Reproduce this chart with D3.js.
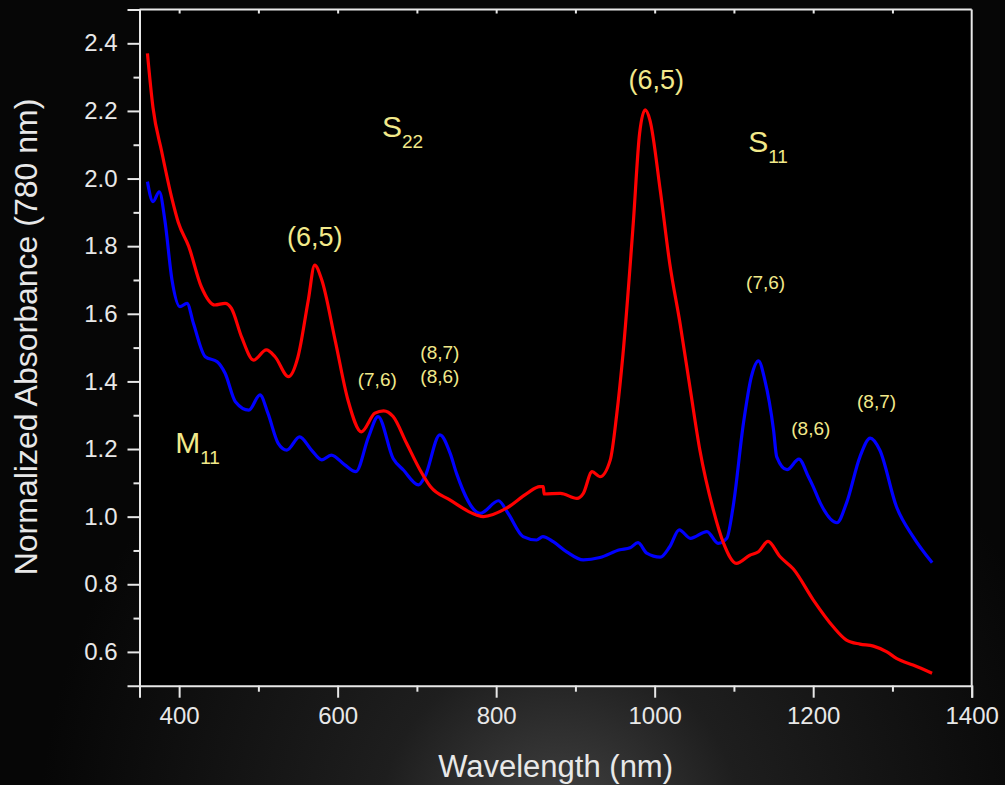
<!DOCTYPE html>
<html>
<head>
<meta charset="utf-8">
<script src="https://cdn.jsdelivr.net/npm/d3@7"></script>
<style>
  body { margin: 0; background: #000; }
  svg { display: block; }
</style>
</head>
<body>
<div id="chart"></div>
<script>
// wavelength (nm) and normalized absorbance for the two samples
var redWl = [360, 367, 378, 391, 399, 412, 428, 445, 458, 466, 479, 494, 510, 521, 538, 550, 563, 571, 580, 597, 613, 630, 647, 658, 670, 687, 704, 717, 742, 775, 784, 813, 839, 855, 859.5, 860.5, 881, 902, 910, 921, 931, 944, 952, 960, 973, 981, 988, 994, 1007, 1019, 1032, 1045, 1057, 1074, 1087, 1103, 1120, 1131, 1143, 1158, 1175, 1200, 1225, 1242, 1259, 1276, 1293, 1305, 1326, 1350];
var redAbs = [2.37, 2.21, 2.08, 1.94, 1.87, 1.80, 1.68, 1.626, 1.631, 1.616, 1.53, 1.463, 1.493, 1.473, 1.414, 1.473, 1.641, 1.744, 1.70, 1.52, 1.345, 1.251, 1.306, 1.313, 1.296, 1.217, 1.138, 1.089, 1.049, 1.005, 1.0, 1.025, 1.069, 1.089, 1.089, 1.067, 1.069, 1.054, 1.069, 1.133, 1.118, 1.168, 1.30, 1.48, 1.868, 2.134, 2.203, 2.173, 1.966, 1.749, 1.572, 1.375, 1.197, 1.02, 0.921, 0.862, 0.886, 0.896, 0.927, 0.882, 0.845, 0.754, 0.675, 0.635, 0.623, 0.617, 0.600, 0.581, 0.561, 0.537];

var blueWl = [360, 367, 375, 382, 391, 401, 410, 418, 433, 448, 458, 471, 488, 502, 512, 525, 536, 552, 567, 580, 592, 609, 623, 639, 651, 670, 683, 702, 710, 729, 742, 750, 780, 803, 815, 834, 851, 859, 872, 889, 910, 931, 956, 969, 979, 990, 1007, 1019, 1031, 1045, 1066, 1080, 1091, 1099, 1112, 1122, 1131, 1139, 1150, 1154, 1167, 1182, 1194, 1200, 1209, 1230, 1242, 1259, 1272, 1284, 1305, 1326, 1350];
var blueAbs = [1.991, 1.932, 1.961, 1.877, 1.70, 1.621, 1.631, 1.572, 1.473, 1.458, 1.424, 1.34, 1.315, 1.36, 1.306, 1.217, 1.197, 1.236, 1.197, 1.168, 1.182, 1.153, 1.133, 1.236, 1.296, 1.172, 1.138, 1.094, 1.118, 1.242, 1.187, 1.128, 1.01, 1.047, 1.01, 0.941, 0.931, 0.941, 0.926, 0.896, 0.872, 0.879, 0.902, 0.908, 0.923, 0.892, 0.880, 0.911, 0.961, 0.936, 0.956, 0.921, 0.936, 1.03, 1.276, 1.414, 1.461, 1.404, 1.256, 1.177, 1.139, 1.17, 1.118, 1.089, 1.04, 0.982, 1.04, 1.177, 1.232, 1.197, 1.03, 0.941, 0.864];

var xTicks = [400, 600, 800, 1000, 1200, 1400];
var xMinor = [500, 700, 900, 1100, 1300];
var yTicks = [0.6, 0.8, 1.0, 1.2, 1.4, 1.6, 1.8, 2.0, 2.2, 2.4];
var yMinor = [0.7, 0.9, 1.1, 1.3, 1.5, 1.7, 1.9, 2.1, 2.3];

// peak assignments: [text, wavelength, absorbance, size]
var peakLabels = [
  ["(6,5)", 571, 1.80, 27],
  ["(6,5)", 1002, 2.265, 27],
  ["(7,6)", 650, 1.386, 19],
  ["(8,7)", 729, 1.467, 19],
  ["(8,6)", 729, 1.394, 19],
  ["(7,6)", 1140, 1.673, 19],
  ["(8,6)", 1197, 1.241, 19],
  ["(8,7)", 1280, 1.322, 19]
];
// transition labels: [letter, subscript, wavelength, absorbance]
var bandLabels = [
  ["S", "22", 656, 2.124],
  ["S", "11", 1118, 2.079],
  ["M", "11", 395, 1.187]
];

var W = 1005, H = 785;
var plotL = 139.5, plotR = 971.7, plotT = 9.5, plotB = 685.7;
var font = "'Liberation Sans', Arial, sans-serif";
var axisColor = "#e8e8e8";
var labelColor = "#f2e98a";

var svg = d3.select("#chart").append("svg")
  .attr("width", W)
  .attr("height", H);

var grad = svg.append("defs").append("radialGradient")
  .attr("id", "glow")
  .attr("gradientUnits", "userSpaceOnUse")
  .attr("cx", 560).attr("cy", 830).attr("r", 520);
grad.append("stop").attr("offset", 0).attr("stop-color", "#444");
grad.append("stop").attr("offset", 0.35).attr("stop-color", "#1e1e1e");
grad.append("stop").attr("offset", 1).attr("stop-color", "#060606");

svg.append("rect").attr("width", W).attr("height", H).attr("fill", "url(#glow)");
svg.append("rect")
  .attr("x", plotL).attr("y", plotT)
  .attr("width", plotR - plotL).attr("height", plotB - plotT)
  .attr("fill", "#000");

var x = d3.scaleLinear().domain([350, 1400]).range([plotL, plotR]);
var y = d3.scaleLinear().domain([0.5, 2.5]).range([plotB, plotT]);

// bottom axis
svg.append("g")
  .attr("transform", "translate(0," + plotB + ")")
  .call(d3.axisBottom(x).tickValues(xTicks).tickSize(12).tickPadding(9).tickFormat(d3.format("d")));
svg.append("g")
  .attr("transform", "translate(0," + plotB + ")")
  .call(d3.axisBottom(x).tickValues(xMinor).tickSize(6).tickFormat(""))
  .select(".domain").remove();

// left axis
svg.append("g")
  .attr("transform", "translate(" + plotL + ",0)")
  .call(d3.axisLeft(y).tickValues(yTicks).tickSize(12).tickPadding(10).tickFormat(d3.format(".1f")));
svg.append("g")
  .attr("transform", "translate(" + plotL + ",0)")
  .call(d3.axisLeft(y).tickValues(yMinor).tickSize(6).tickFormat(""))
  .select(".domain").remove();

// top frame with small inward ticks
svg.append("g")
  .attr("transform", "translate(0," + plotT + ")")
  .call(d3.axisBottom(x).tickValues(xTicks.concat(xMinor).filter(function (d) { return d < 1400; })).tickSize(4).tickFormat(""))
  .select(".domain").remove();

svg.selectAll(".domain").attr("stroke", axisColor).attr("stroke-width", 2);
svg.selectAll(".tick line").attr("stroke", axisColor).attr("stroke-width", 2);
svg.selectAll(".tick text")
  .attr("fill", axisColor)
  .style("font-family", font)
  .style("font-size", "24px");

svg.append("line")
  .attr("x1", plotL).attr("x2", plotR)
  .attr("y1", plotT).attr("y2", plotT)
  .attr("stroke", axisColor).attr("stroke-width", 2);
svg.append("line")
  .attr("x1", plotR).attr("x2", plotR)
  .attr("y1", plotT).attr("y2", plotB)
  .attr("stroke", axisColor).attr("stroke-width", 2);

// spectra
var line = d3.line()
  .x(function (d) { return x(d[0]); })
  .y(function (d) { return y(d[1]); })
  .curve(d3.curveMonotoneX);

svg.append("path")
  .datum(d3.zip(blueWl, blueAbs))
  .attr("fill", "none")
  .attr("stroke", "#0000ff")
  .attr("stroke-width", 3.2)
  .attr("d", line);

svg.append("path")
  .datum(d3.zip(redWl, redAbs))
  .attr("fill", "none")
  .attr("stroke", "#ff0000")
  .attr("stroke-width", 3.2)
  .attr("d", line);

// axis titles
svg.append("text")
  .attr("x", (plotL + plotR) / 2)
  .attr("y", 777)
  .attr("text-anchor", "middle")
  .attr("fill", axisColor)
  .style("font-family", font)
  .style("font-size", "31px")
  .text("Wavelength (nm)");

svg.append("text")
  .attr("transform", "translate(37,337) rotate(-90)")
  .attr("text-anchor", "middle")
  .attr("fill", axisColor)
  .style("font-family", font)
  .style("font-size", "32px")
  .text("Normalized Absorbance (780 nm)");

// annotations
svg.selectAll(".peak")
  .data(peakLabels)
  .enter().append("text")
  .attr("class", "peak")
  .attr("x", function (d) { return x(d[1]); })
  .attr("y", function (d) { return y(d[2]); })
  .attr("text-anchor", "middle")
  .attr("fill", labelColor)
  .style("font-family", font)
  .style("font-size", function (d) { return d[3] + "px"; })
  .text(function (d) { return d[0]; });

var band = svg.selectAll(".band")
  .data(bandLabels)
  .enter().append("text")
  .attr("class", "band")
  .attr("x", function (d) { return x(d[2]); })
  .attr("y", function (d) { return y(d[3]); })
  .attr("fill", labelColor)
  .style("font-family", font)
  .style("font-size", "30px");
band.append("tspan").text(function (d) { return d[0]; });
band.append("tspan")
  .attr("dy", 11)
  .style("font-size", "19px")
  .text(function (d) { return d[1]; });
</script>
</body>
</html>
